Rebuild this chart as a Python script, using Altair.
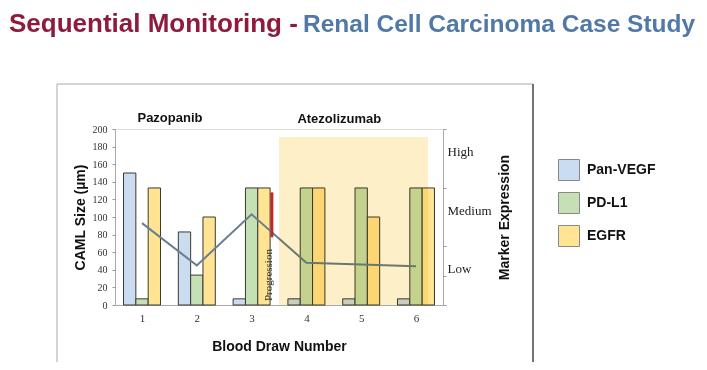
import altair as alt
import pandas as pd

# ---- data ----
draws = [1, 2, 3, 4, 5, 6]
series = ["Pan-VEGF", "PD-L1", "EGFR"]
pan_vegf = [150, 83, 7, 7, 7, 7]
pd_l1 = [7, 34, 133, 133, 133, 133]
egfr = [133, 100, 133, 133, 100, 133]
caml_size = [93, 45, 103, 48, 46, 44]
marker_levels = ["Low", "Medium", "High"]
series_colors = ["#cadcf0", "#c5e0b4", "#ffe494"]

drug_names = ["Pazopanib", "Atezolizumab"]
drug_x = [1.51, 4.6]
drug_y = [213, 211]

shade_x = [3.5]
shade_x2 = [6.22]
shade_y2 = [191]

prog_x = [3.37]
prog_top = [128]
prog_bottom = [77]
prog_label = ["Progression"]
prog_label_x = [3.31]
prog_label_y = [34]

SANS = "Liberation Sans"
SERIF = "Liberation Serif"

rows = []
for i, d in enumerate(draws):
    for k, (s, vals) in enumerate(zip(series, [pan_vegf, pd_l1, egfr])):
        rows.append({"draw": d, "series": s, "idx": k, "value": vals[i]})
bars_df = pd.DataFrame(rows)
line_df = pd.DataFrame({"draw": draws, "caml": caml_size})

GROUP = 0.675  # group width in x units
BARW = GROUP / 3

x_scale = alt.Scale(domain=[0.507, 6.493], nice=False, zero=False)
x_axis = alt.Axis(values=draws, title="Blood Draw Number", grid=False, ticks=False,
                  labelFont=SERIF, labelFontSize=11, labelColor="#333",
                  labelPadding=7, domainColor="#aaa", format="d",
                  titleFont=SANS, titleFontSize=14, titleFontWeight="bold",
                  titleColor="#111", titlePadding=16)
y_scale = alt.Scale(domain=[0, 200], nice=False)
y_axis = alt.Axis(values=list(range(0, 201, 20)), title="CAML Size (µm)", grid=False,
                  tickSize=3, tickColor="#999", domainColor="#aaa",
                  labelFont=SERIF, labelFontSize=10, labelColor="#333", labelPadding=5,
                  titleFont=SANS, titleFontSize=14, titleFontWeight="bold",
                  titleColor="#111", titlePadding=5)

X = lambda f: alt.X(f, type="quantitative", scale=x_scale, axis=x_axis)
Y = lambda f: alt.Y(f, type="quantitative", scale=y_scale, axis=y_axis)

bars = alt.Chart(bars_df).transform_calculate(
    x0=f"datum.draw - {GROUP/2} + datum.idx * {BARW}",
    x1=f"datum.draw - {GROUP/2} + (datum.idx + 1) * {BARW}",
    base="0",
).mark_rect(stroke="#3a3a30", strokeWidth=1).encode(
    x=X("x0"),
    x2="x1:Q",
    y=Y("value"),
    y2="base:Q",
    color=alt.Color("series:N", scale=alt.Scale(domain=series, range=series_colors),
                    legend=alt.Legend(title=None, orient="none", legendX=443, legendY=30,
                                      symbolType="square", symbolSize=441,
                                      symbolStrokeColor="#888", symbolStrokeWidth=1,
                                      labelFont=SANS, labelFontSize=14,
                                      labelFontWeight="bold", labelColor="#111",
                                      labelOffset=7, rowPadding=7, padding=0)),
)

line = alt.Chart(line_df).mark_line(color="#6b7e8c", strokeWidth=2).encode(
    x=X("draw"), y=Y("caml")
)

shade = alt.Chart(pd.DataFrame({"x": shade_x, "x2": shade_x2, "y": [0], "y2": shade_y2})).mark_rect(
    color="#fdf0c8", blend="multiply"
).encode(x=X("x"), x2="x2:Q", y=Y("y"), y2="y2:Q")

prog = alt.Chart(pd.DataFrame({"x": prog_x, "y": prog_top, "y2": prog_bottom})).mark_rule(
    color="#c0282e", strokeWidth=3
).encode(x=X("x"), y=Y("y"), y2="y2:Q")

prog_text = alt.Chart(pd.DataFrame({"x": prog_label_x, "y": prog_label_y, "t": prog_label})).mark_text(
    angle=270, font=SERIF, fontSize=11, color="#333", baseline="middle", align="center"
).encode(x=X("x"), y=Y("y"), text="t:N")

drugs = alt.Chart(pd.DataFrame({"x": drug_x, "y": drug_y, "t": drug_names})).mark_text(
    font=SANS, fontSize=13, fontWeight="bold", color="#111", baseline="middle", align="center"
).encode(x=X("x"), y=Y("y"), text="t:N")

left = alt.layer(bars, line, shade, prog, prog_text, drugs)

right_axis = alt.Axis(
    orient="right", values=[0, 0.5, 1, 1.5, 2, 2.5, 3], grid=False,
    labelExpr=f"datum.value==0.5?'{marker_levels[0]}':datum.value==1.5?'{marker_levels[1]}':datum.value==2.5?'{marker_levels[2]}':''",
    tickSize=3, tickColor="#999", domainColor="#aaa",
    tickOpacity={"condition": {"test": "datum.value==1.5 || datum.value==2.5", "value": 0}, "value": 1},
    labelFont=SERIF, labelFontSize=13, labelColor="#222", labelPadding=1, labelOffset=-7,
    title="Marker Expression", titleAngle=270, titleFont=SANS, titleFontSize=14,
    titleFontWeight="bold", titleColor="#111", titlePadding=20,
)
right = alt.Chart(pd.DataFrame({"lvl": [0, 3]})).mark_point(opacity=0).encode(
    y=alt.Y("lvl:Q", scale=alt.Scale(domain=[0, 3], nice=False), axis=right_axis)
)

one = alt.Data(values=[{}])
frame = alt.Chart(one).mark_rect(fill=None, stroke="#aaa", strokeWidth=1).encode(
    x=alt.value(-58), x2=alt.value(418), y=alt.value(-45), y2=alt.value(300)
)
frame_right = alt.Chart(one).mark_rule(color="#333", strokeWidth=1.2).encode(
    x=alt.value(418), y=alt.value(-45), y2=alt.value(300)
)
title_red = alt.Chart(one).mark_text(
    text="Sequential Monitoring -", font=SANS, fontSize=26, fontWeight="bold",
    color="#8e1b3c", align="left", baseline="alphabetic"
).encode(x=alt.value(-106), y=alt.value(-97))
title_blue = alt.Chart(one).mark_text(
    text="Renal Cell Carcinoma Case Study", font=SANS, fontSize=24.5, fontWeight="bold",
    color="#5079a8", align="left", baseline="alphabetic"
).encode(x=alt.value(188), y=alt.value(-97))

chart = alt.layer(left, right, frame, frame_right, title_red, title_blue).resolve_scale(
    y="independent"
).properties(
    width=328, height=176,
    autosize=alt.AutoSizeParams(type="none"),
    padding={"left": 107, "top": 121, "right": 256, "bottom": 57},
).configure_view(stroke=None).configure(background="white")

chart.save("out.html", embed_options={"renderer": "svg", "actions": False})
